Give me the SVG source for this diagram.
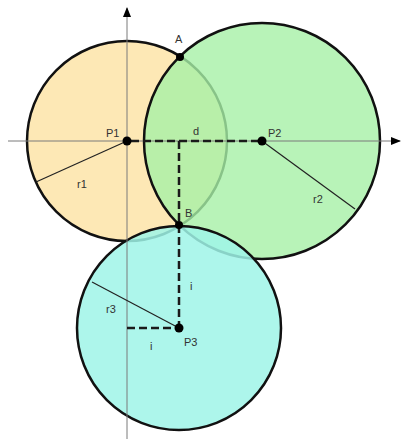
<svg xmlns="http://www.w3.org/2000/svg" width="402" height="439" viewBox="0 0 402 439">
<style>
.circ{stroke:#111;stroke-width:2.5}
.lbl{font-family:"Liberation Sans",Arial,sans-serif;font-size:11px;fill:#333}
.axis{stroke:#7a7a7a;stroke-width:1;fill:none}
.dash{stroke:#1a1a1a;stroke-width:2.5;stroke-dasharray:8 4;fill:none}
.rad{stroke:#222;stroke-width:1.2;fill:none}
.pt{fill:#000}
</style>
<defs>
<marker id="arr" markerWidth="10" markerHeight="10" refX="9" refY="5" orient="auto" markerUnits="userSpaceOnUse">
<path d="M0,1 L10,5 L0,9 Z" fill="#000"/>
</marker>
</defs>
<rect width="402" height="439" fill="#fff"/>
<g id="circle1">
<circle class="circ" cx="127" cy="141" r="100" fill="#fde8b5"/>
</g>
<g id="circle2">
<circle cx="262" cy="141" r="118" fill="#a6f0a6" fill-opacity="0.8"/>
<circle class="circ" cx="262" cy="141" r="118" fill="none"/>
</g>
<g id="circle3">
<circle cx="179" cy="328" r="102" fill="#9ff5e8" fill-opacity="0.85"/>
<circle class="circ" cx="179" cy="328" r="102" fill="none"/>
</g>
<g id="connectors">
<line class="axis" x1="127" y1="439" x2="127" y2="8" marker-end="url(#arr)"/>
<line class="axis" x1="8" y1="141" x2="400" y2="141" marker-end="url(#arr)"/>
<line class="rad" x1="127" y1="141" x2="36" y2="182"/>
<line class="rad" x1="262" y1="141" x2="355" y2="209"/>
<line class="rad" x1="179" y1="328" x2="92" y2="282"/>
<line class="dash" x1="131" y1="141" x2="262" y2="141"/>
<line class="dash" x1="179" y1="141" x2="179" y2="328"/>
<line class="dash" x1="127" y1="328" x2="179" y2="328"/>
</g>
<g id="P1"><circle class="pt" cx="127" cy="141" r="4.5"/><text class="lbl" x="106" y="137">P1</text></g>
<g id="P2"><circle class="pt" cx="262" cy="141" r="4.5"/><text class="lbl" x="268" y="137">P2</text></g>
<g id="P3"><circle class="pt" cx="179" cy="328" r="4.5"/><text class="lbl" x="184" y="346">P3</text></g>
<g id="A"><circle class="pt" cx="180" cy="57" r="4"/><text class="lbl" x="175" y="43">A</text></g>
<g id="B"><circle class="pt" cx="179" cy="225" r="4"/><text class="lbl" x="185" y="217">B</text></g>
<g id="labels">
<text class="lbl" x="193" y="135">d</text>
<text class="lbl" x="77" y="188">r1</text>
<text class="lbl" x="313" y="203">r2</text>
<text class="lbl" x="106" y="313">r3</text>
<text class="lbl" x="190" y="290">i</text>
<text class="lbl" x="150" y="350">i</text>
</g>
</svg>
